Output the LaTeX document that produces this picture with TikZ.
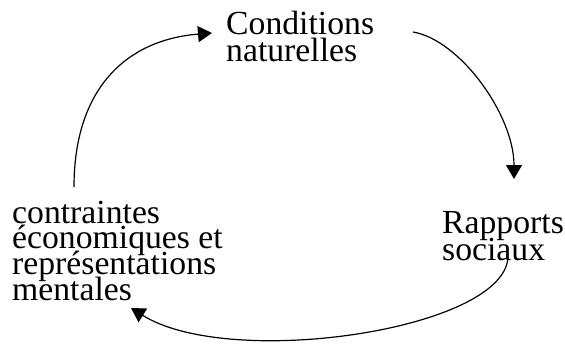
\documentclass[tikz,border=0pt]{standalone}
\usepackage{fontspec}
\setmainfont{Liberation Serif}
\usetikzlibrary{arrows.meta}
\newcommand{\vlines}[2]{\fontsize{33.7}{#1}\selectfont\vtop{\lineskiplimit=-100pt\lineskip=0pt #2}}
\tikzset{
  txt/.style={inner sep=0pt, anchor=base west},
  conn/.style={line width=1.2pt, -{Triangle[length=14pt,width=16pt]}}
}
\begin{document}
\begin{tikzpicture}[x=1pt,y=-1pt]
\useasboundingbox (0,0) rectangle (565,345);
\node[txt] (cond) at (226,35) {\vlines{27}{\hbox{Conditions}\hbox{naturelles}}};
\node[txt] (rap) at (442,233) {\vlines{27}{\hbox{Rapports}\hbox{sociaux}}};
\node[txt] (contr) at (12,223) {\vlines{25.7}{\hbox{contraintes}\hbox{économiques et}\hbox{représentations}\hbox{mentales}}};
\coordinate (a1s) at (413,32);
\coordinate (a1e) at (514,179);
\coordinate (a2s) at (508,257);
\coordinate (a2e) at (131,308);
\coordinate (a3s) at (74,187);
\coordinate (a3e) at (212,33);
\draw[conn] (a1s) .. controls (460,40) and (514,115) .. (a1e);
\draw[conn] (a2s) .. controls (505,330) and (230,370) .. (a2e);
\draw[conn] (a3s) .. controls (74,90) and (125,40) .. (a3e);
\end{tikzpicture}
\end{document}
